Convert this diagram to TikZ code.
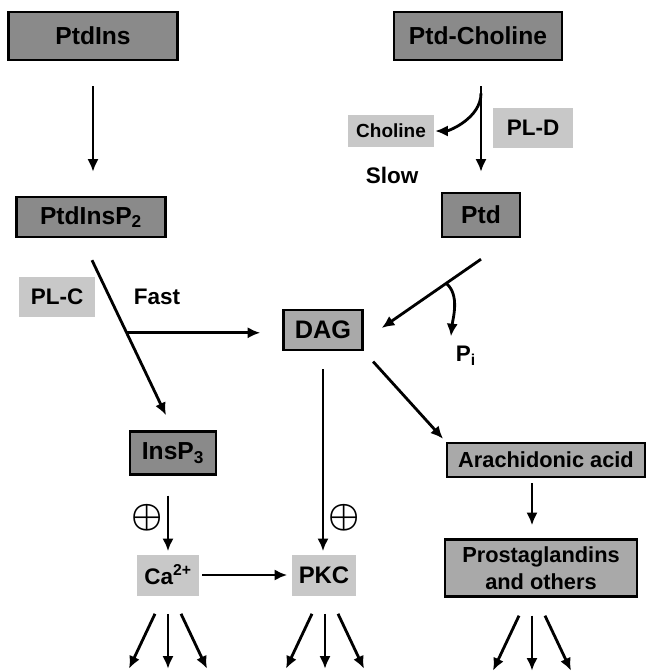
\documentclass[tikz,border=0pt]{standalone}
\usepackage{fontspec}
\usepackage{amsmath}
\setmainfont{Liberation Sans}
\usetikzlibrary{arrows.meta}
\definecolor{darkfill}{HTML}{8A8A8A}
\definecolor{midfill}{HTML}{A9A9A9}
\definecolor{lightfill}{HTML}{C8C8C8}
\tikzset{
darkbox/.style={draw=black, line width=1.7pt, fill=darkfill, inner sep=0pt, font=\fontsize{17.5}{20}\selectfont\bfseries},
midbox/.style={draw=black, line width=1.7pt, fill=midfill, inner sep=0pt, align=center, font=\fontsize{15.5}{19}\selectfont\bfseries},
lightbox/.style={fill=lightfill, inner sep=0pt, font=\fontsize{16}{19}\selectfont\bfseries},
tag/.style={inner sep=0pt, font=\fontsize{16}{19}\selectfont\bfseries},
arr/.style={-{Latex[length=9pt,width=8pt]}, line width=2pt}}

\begin{document}
\begin{tikzpicture}[x=0.025cm, y=-0.025cm]
    \useasboundingbox (0,0) rectangle (650,671);

                % lipids
                \node[darkbox, minimum width=4.225cm, minimum height=1.2cm] (ptdins) at (93,36) {PtdIns};
                \node[darkbox, minimum width=4.2cm, minimum height=1.2cm] (ptdcho) at (478,36) {Ptd-Choline};
                \node[darkbox, minimum width=3.725cm, minimum height=1cm] (ptdinsp2) at (91,217) {PtdInsP\textsubscript{2}};
                \node[darkbox, minimum width=1.95cm, minimum height=1.1cm] (ptd) at (481,215) {Ptd};
                \node[darkbox, minimum width=2.15cm, minimum height=1.075cm] (insp3) at (173,453) {InsP\textsubscript{3}};
                \node[midbox, minimum width=1.975cm, minimum height=1cm, font=\fontsize{18}{20}\selectfont\bfseries] (dag) at (323,330) {DAG};
                \node[midbox, minimum width=4.95cm, minimum height=0.85cm] (ara) at (546,460) {Arachidonic acid};
                \node[midbox, minimum width=4.8cm, minimum height=1.425cm] (prost) at (541,568) {Prostaglandins\\and others};

                % enzymes and messengers
                \node[lightbox, minimum width=2.125cm, minimum height=0.8cm, font=\fontsize{13.5}{16}\selectfont\bfseries] (choline) at (391,131) {Choline};
                \node[lightbox, minimum width=1.975cm, minimum height=1cm] (pld) at (533,128) {PL-D};
                \node[lightbox, minimum width=1.9cm, minimum height=1cm] (plc) at (57,297) {PL-C};
                \node[lightbox, minimum width=1.55cm, minimum height=1.025cm] (ca) at (168,575) {Ca\textsuperscript{2+}};
                \node[lightbox, minimum width=1.575cm, minimum height=1.025cm, font=\fontsize{17}{19}\selectfont\bfseries] (pkc) at (324,575) {PKC};

                % plain labels
                \node[tag] (slow) at (392,175) {Slow};
                \node[tag] (fast) at (157,297) {Fast};
                \node[tag] (pi) at (466,356) {P\textsubscript{i}};
                \node[inner sep=0pt, font=\fontsize{26}{30}\selectfont] (plusa) at (147,518) {$\boldsymbol{\oplus}$};
                \node[inner sep=0pt, font=\fontsize{26}{30}\selectfont] (plusb) at (344,518) {$\boldsymbol{\oplus}$};

                \draw[arr, shorten <=0.625cm, shorten >=0.6cm] (ptdins.south) -- (ptdins.south |- ptdinsp2.north);
                \draw[arr, shorten <=0.625cm, shorten >=0.5cm] (ptdcho.south -| ptd.north) -- (ptd.north);
                \path (ptdcho.south -| ptd.north) ++(0,32) coordinate (chofork);
                \draw[arr, shorten >=1pt] (chofork) .. controls +(0,25) and +(15,0) .. (choline.east);

                \draw[arr] ([shift={(1,22)}]ptdinsp2.south) -- coordinate[pos=0.468] (dagfork) ([shift={(-7,-15)}]insp3.north);
                \draw[arr, shorten >=0.55cm] (dagfork) -- (dagfork -| dag.west);
                \draw[arr] ([shift={(0,21)}]ptd.south) -- coordinate[pos=0.35] (pifork) ([shift={(18,-2)}]dag.east);
                \draw[arr, shorten >=2pt] (pifork) .. controls +(14,12) and +(2,-20) .. ([shift={(-5,-7)}]pi.north west);

                \draw[arr, shorten <=0.45cm, shorten >=0.075cm] (dag.south) -- (dag.south |- pkc.north);
                \draw[arr, shorten <=0.35cm, shorten >=0.1cm] (dag.south east) -- (ara.north west);
                \draw[arr, shorten <=0.5cm, shorten >=0.075cm] (insp3.south -| ca.north) -- (ca.north);
                \draw[arr, shorten <=0.075cm, shorten >=0.125cm] (ca) -- (pkc);

                \coordinate (prostaxis) at (532,0);
                \draw[arr, shorten <=0.125cm, shorten >=0.325cm] (ara.south -| prostaxis) -- (prost.north -| prostaxis);

                % effector fans
                \foreach \n/\c in {ca/168, pkc/325, prost/532}{
                    \coordinate (\n ax) at (\c,0);
                    \path (\n.south -| \n ax) ++(0,18) coordinate (\n fan);
                    \foreach \d in {-1,0,1}{
                        \path (\n fan) ++(\d*39,55) coordinate (\n end\d);
                        \draw[arr] ([shift={(\d*13,0)}]\n fan) -- (\n end\d);
                    }
                }

            \end{tikzpicture}
\end{document}
